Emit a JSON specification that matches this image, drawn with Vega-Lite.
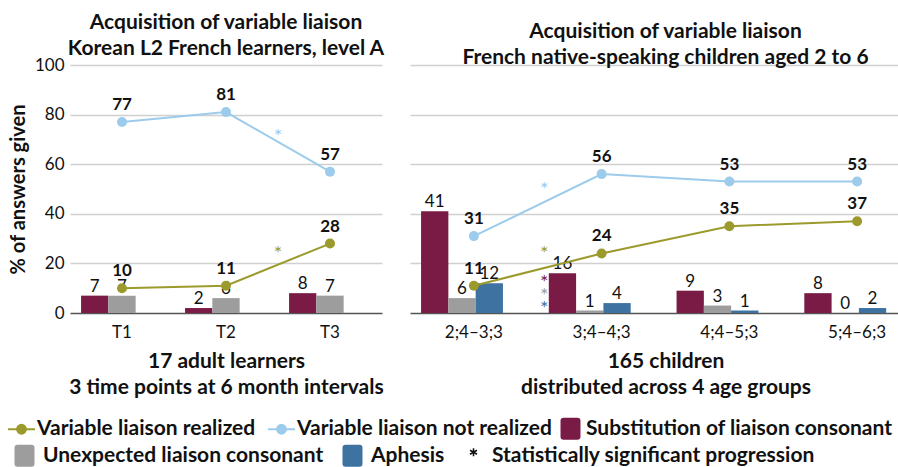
{
  "$schema": "https://vega.github.io/schema/vega-lite/v6.json",
  "padding": {"left": 8, "top": 12, "right": 0, "bottom": 0},
  "background": "white",
  "config": {
    "font": "Lato",
    "view": {"stroke": null},
    "concat": {"spacing": 25},
    "axis": {"labelFont": "Lato", "titleFont": "Lato", "labelColor": "#111", "titleColor": "#111"},
    "legend": {
      "orient": "none",
      "direction": "horizontal",
      "labelFont": "Lato",
      "labelFontSize": 21,
      "labelFontWeight": "bold",
      "labelColor": "#111",
      "labelLimit": 400
    }
  },
  "datasets": {
    "lines": [
      {"panel": "A", "cat": "T1", "series": "Variable liaison realized", "value": 10},
      {"panel": "A", "cat": "T2", "series": "Variable liaison realized", "value": 11},
      {"panel": "A", "cat": "T3", "series": "Variable liaison realized", "value": 28},
      {"panel": "A", "cat": "T1", "series": "Variable liaison not realized", "value": 77},
      {"panel": "A", "cat": "T2", "series": "Variable liaison not realized", "value": 81},
      {"panel": "A", "cat": "T3", "series": "Variable liaison not realized", "value": 57},
      {"panel": "B", "cat": "2;4–3;3", "series": "Variable liaison realized", "value": 11},
      {"panel": "B", "cat": "3;4–4;3", "series": "Variable liaison realized", "value": 24},
      {"panel": "B", "cat": "4;4–5;3", "series": "Variable liaison realized", "value": 35},
      {"panel": "B", "cat": "5;4–6;3", "series": "Variable liaison realized", "value": 37},
      {"panel": "B", "cat": "2;4–3;3", "series": "Variable liaison not realized", "value": 31},
      {"panel": "B", "cat": "3;4–4;3", "series": "Variable liaison not realized", "value": 56},
      {"panel": "B", "cat": "4;4–5;3", "series": "Variable liaison not realized", "value": 53},
      {"panel": "B", "cat": "5;4–6;3", "series": "Variable liaison not realized", "value": 53}
    ],
    "bars": [
      {"panel": "A", "cat": "T1", "series": "Substitution of liaison consonant", "value": 7},
      {"panel": "A", "cat": "T1", "series": "Unexpected liaison consonant", "value": 7},
      {"panel": "A", "cat": "T2", "series": "Substitution of liaison consonant", "value": 2},
      {"panel": "A", "cat": "T2", "series": "Unexpected liaison consonant", "value": 6},
      {"panel": "A", "cat": "T3", "series": "Substitution of liaison consonant", "value": 8},
      {"panel": "A", "cat": "T3", "series": "Unexpected liaison consonant", "value": 7},
      {"panel": "B", "cat": "2;4–3;3", "series": "Substitution of liaison consonant", "value": 41},
      {"panel": "B", "cat": "2;4–3;3", "series": "Unexpected liaison consonant", "value": 6},
      {"panel": "B", "cat": "2;4–3;3", "series": "Aphesis", "value": 12},
      {"panel": "B", "cat": "3;4–4;3", "series": "Substitution of liaison consonant", "value": 16},
      {"panel": "B", "cat": "3;4–4;3", "series": "Unexpected liaison consonant", "value": 1},
      {"panel": "B", "cat": "3;4–4;3", "series": "Aphesis", "value": 4},
      {"panel": "B", "cat": "4;4–5;3", "series": "Substitution of liaison consonant", "value": 9},
      {"panel": "B", "cat": "4;4–5;3", "series": "Unexpected liaison consonant", "value": 3},
      {"panel": "B", "cat": "4;4–5;3", "series": "Aphesis", "value": 1},
      {"panel": "B", "cat": "5;4–6;3", "series": "Substitution of liaison consonant", "value": 8},
      {"panel": "B", "cat": "5;4–6;3", "series": "Unexpected liaison consonant", "value": 0},
      {"panel": "B", "cat": "5;4–6;3", "series": "Aphesis", "value": 2}
    ],
    "stars": [
      {"panel": "A", "cat": "T2", "series": "Variable liaison not realized", "value": 73},
      {"panel": "A", "cat": "T2", "series": "Variable liaison realized", "value": 26},
      {"panel": "B", "cat": "2;4–3;3", "series": "Variable liaison not realized", "value": 51.6},
      {"panel": "B", "cat": "2;4–3;3", "series": "Variable liaison realized", "value": 25.8},
      {"panel": "B", "cat": "2;4–3;3", "series": "Substitution of liaison consonant", "value": 14},
      {"panel": "B", "cat": "2;4–3;3", "series": "Unexpected liaison consonant", "value": 9},
      {"panel": "B", "cat": "2;4–3;3", "series": "Aphesis", "value": 3.6}
    ]
  },
  "hconcat": [
    {
      "width": 312,
      "height": 248,
      "title": {"text": ["Acquisition of variable liaison", "Korean L2 French learners, level A"], "fontSize": 21, "fontWeight": "bold", "lineHeight": 26, "anchor": "middle", "offset": -3, "color": "#111", "font": "Lato"},
      "encoding": {
        "x": {
          "field": "cat", "type": "nominal",
          "scale": {"domain": ["T1", "T2", "T3"], "paddingInner": 0, "paddingOuter": 0},
          "axis": {"domain": false, "ticks": false, "labelAngle": 0, "labelFontSize": 17, "labelPadding": 11,
                   "title": ["17 adult learners", "3 time points at 6 month intervals"], "titleFontSize": 21, "titleFontWeight": "bold", "titleLineHeight": 26, "titlePadding": 10}
        },
        "y": {
          "field": "value", "type": "quantitative", "scale": {"domain": [0, 100], "nice": false},
          "axis": {"values": [0, 20, 40, 60, 80, 100], "domain": false, "ticks": false, "labelFontSize": 17, "labelPadding": 6,
                   "title": "% of answers given", "titleFontSize": 20, "titleFontWeight": "bold", "titlePadding": 6,
                   "gridColor": {"condition": {"test": "datum.value === 0", "value": "#555555"}, "value": "#d0d0d0"},
                   "gridWidth": {"condition": {"test": "datum.value === 0", "value": 1.6}, "value": 1.4}}
        }
      },
      "layer": [
        {
          "data": {"name": "bars"},
          "transform": [{"filter": "datum.panel === 'A' && datum.series === 'Substitution of liaison consonant'"}],
          "mark": {"type": "bar"},
          "encoding": {
            "xOffset": {"field": "series", "type": "nominal", "scale": {"domain": ["Substitution of liaison consonant", "Unexpected liaison consonant"], "paddingOuter": 0.405, "paddingInner": 0}},
            "color": {
              "field": "series", "type": "nominal",
              "scale": {
                "domain": ["Variable liaison realized", "Variable liaison not realized", "Substitution of liaison consonant"],
                "range": ["#9c9a2c", "#9ccbec", "#7a1b45"]
              },
              "legend": {
                "title": null,
                "orient": "none",
                "legendX": -59,
                "legendY": 353,
                "direction": "horizontal",
                "symbolSize": 729,
                "labelOffset": 5,
                "columnPadding": 8,
                "encode": {
                  "symbols": {
                    "update": {
                      "shape": {"signal": "datum.value === 'Substitution of liaison consonant' ? 'M-0.5,-0.81H0.5Q0.74,-0.81 0.74,-0.57V0.57Q0.74,0.81 0.5,0.81H-0.5Q-0.74,0.81 -0.74,0.57V-0.57Q-0.74,-0.81 -0.5,-0.81Z' : 'M-1,0H1M0.33,0A0.33,0.33 0 1 1 -0.33,0A0.33,0.33 0 1 1 0.33,0Z'"},
                      "stroke": {"scale": "color", "field": "value"},
                      "fill": {"scale": "color", "field": "value"},
                      "strokeWidth": {"signal": "datum.value === 'Substitution of liaison consonant' ? 0 : 2"},
                      "opacity": {"value": 1}
                    }
                  }
                }
              }
            }
          }
        },
        {
          "data": {"name": "bars"},
          "transform": [{"filter": "datum.panel === 'A' && datum.series !== 'Substitution of liaison consonant'"}],
          "mark": {"type": "bar"},
          "encoding": {
            "xOffset": {"field": "series", "type": "nominal"},
            "fill": {
              "field": "series", "type": "nominal",
              "scale": {
                "domain": ["Unexpected liaison consonant", "Aphesis", "Statistically significant progression"],
                "range": ["#9d9d9d", "#3e72a1", "#111111"]
              },
              "legend": {
                "title": null,
                "orient": "none",
                "legendX": -56,
                "legendY": 380,
                "direction": "horizontal",
                "symbolSize": 400,
                "labelOffset": 8,
                "columnPadding": 18,
                "encode": {
                  "symbols": {
                    "update": {
                      "shape": {"signal": "datum.value === 'Statistically significant progression' ? 'M0,-0.8V0M-0.35,-0.6L0.35,-0.2M-0.35,-0.2L0.35,-0.6' : 'M-0.7,-1.1H0.7Q1,-1.1 1,-0.8V0.8Q1,1.1 0.7,1.1H-0.7Q-1,1.1 -1,0.8V-0.8Q-1,-1.1 -0.7,-1.1Z'"},
                      "stroke": {"scale": "fill", "field": "value"},
                      "fill": {"scale": "fill", "field": "value"},
                      "strokeWidth": {"signal": "datum.value === 'Statistically significant progression' ? 1.5 : 0"},
                      "opacity": {"value": 1}
                    }
                  }
                }
              }
            }
          }
        },
        {
          "data": {"name": "bars"},
          "transform": [{"filter": "datum.panel === 'A'"}],
          "mark": {"type": "text", "fontSize": 17, "dy": -9, "color": "#111"},
          "encoding": {
            "xOffset": {"field": "series", "type": "nominal"},
            "text": {"field": "value", "type": "quantitative"}
          }
        },
        {
          "data": {"name": "lines"},
          "transform": [{"filter": "datum.panel === 'A'"}],
          "mark": {"type": "line", "strokeWidth": 2},
          "encoding": {"color": {"field": "series", "type": "nominal"}}
        },
        {
          "data": {"name": "lines"},
          "transform": [{"filter": "datum.panel === 'A'"}],
          "mark": {"type": "point", "filled": true, "size": 100, "opacity": 1},
          "encoding": {"color": {"field": "series", "type": "nominal"}}
        },
        {
          "data": {"name": "lines"},
          "transform": [{"filter": "datum.panel === 'A'"}],
          "mark": {"type": "text", "fontSize": 17, "fontWeight": "bold", "dy": -17, "color": "#111"},
          "encoding": {"text": {"field": "value", "type": "quantitative"}}
        },
        {
          "data": {"name": "stars"},
          "transform": [{"filter": "datum.panel === 'A'"}],
          "mark": {"type": "text", "text": "*", "fontSize": 20, "dy": 5},
          "encoding": {
            "x": {"field": "cat", "type": "nominal", "bandPosition": 1},
            "color": {"field": "series", "type": "nominal"}
          }
        }
      ]
    },
    {
      "width": 511,
      "height": 248,
      "title": {"text": ["Acquisition of variable liaison", "French native-speaking children aged 2 to 6"], "fontSize": 21, "fontWeight": "bold", "lineHeight": 26, "anchor": "middle", "offset": -3, "color": "#111", "font": "Lato"},
      "encoding": {
        "x": {
          "field": "cat", "type": "nominal",
          "scale": {"domain": ["2;4–3;3", "3;4–4;3", "4;4–5;3", "5;4–6;3"], "paddingInner": 0, "paddingOuter": 0},
          "axis": {"domain": false, "ticks": false, "labelAngle": 0, "labelFontSize": 17, "labelPadding": 11,
                   "title": ["165 children", "distributed across 4 age groups"], "titleFontSize": 21, "titleFontWeight": "bold", "titleLineHeight": 26, "titlePadding": 10}
        },
        "y": {
          "field": "value", "type": "quantitative", "scale": {"domain": [0, 100], "nice": false},
          "axis": {"values": [0, 20, 40, 60, 80, 100], "domain": false, "ticks": false, "labels": false, "title": null,
                   "gridColor": {"condition": {"test": "datum.value === 0", "value": "#555555"}, "value": "#d0d0d0"},
                   "gridWidth": {"condition": {"test": "datum.value === 0", "value": 1.6}, "value": 1.4}}
        }
      },
      "layer": [
        {
          "data": {"name": "bars"},
          "transform": [{"filter": "datum.panel === 'B' && datum.series === 'Substitution of liaison consonant'"}],
          "mark": {"type": "bar"},
          "encoding": {
            "xOffset": {"field": "series", "type": "nominal", "scale": {"domain": ["Substitution of liaison consonant", "Unexpected liaison consonant", "Aphesis"], "paddingOuter": 0.86, "paddingInner": 0}},
            "color": {"field": "series", "type": "nominal"}
          }
        },
        {
          "data": {"name": "bars"},
          "transform": [{"filter": "datum.panel === 'B' && datum.series !== 'Substitution of liaison consonant'"}],
          "mark": {"type": "bar"},
          "encoding": {
            "xOffset": {"field": "series", "type": "nominal"},
            "fill": {"field": "series", "type": "nominal"}
          }
        },
        {
          "data": {"name": "bars"},
          "transform": [{"filter": "datum.panel === 'B'"}],
          "mark": {"type": "text", "fontSize": 17, "dy": -9, "color": "#111"},
          "encoding": {
            "xOffset": {"field": "series", "type": "nominal"},
            "text": {"field": "value", "type": "quantitative"}
          }
        },
        {
          "data": {"name": "lines"},
          "transform": [{"filter": "datum.panel === 'B'"}],
          "mark": {"type": "line", "strokeWidth": 2},
          "encoding": {"color": {"field": "series", "type": "nominal"}}
        },
        {
          "data": {"name": "lines"},
          "transform": [{"filter": "datum.panel === 'B'"}],
          "mark": {"type": "point", "filled": true, "size": 100, "opacity": 1},
          "encoding": {"color": {"field": "series", "type": "nominal"}}
        },
        {
          "data": {"name": "lines"},
          "transform": [{"filter": "datum.panel === 'B'"}],
          "mark": {"type": "text", "fontSize": 17, "fontWeight": "bold", "dy": -17, "color": "#111"},
          "encoding": {"text": {"field": "value", "type": "quantitative"}}
        },
        {
          "data": {"name": "stars"},
          "transform": [{"filter": "datum.panel === 'B' && (datum.series === 'Variable liaison realized' || datum.series === 'Variable liaison not realized' || datum.series === 'Substitution of liaison consonant')"}],
          "mark": {"type": "text", "text": "*", "fontSize": 20, "dy": 5},
          "encoding": {
            "x": {"field": "cat", "type": "nominal", "bandPosition": 1.05},
            "color": {"field": "series", "type": "nominal"}
          }
        },
        {
          "data": {"name": "stars"},
          "transform": [{"filter": "datum.panel === 'B' && (datum.series === 'Unexpected liaison consonant' || datum.series === 'Aphesis')"}],
          "mark": {"type": "text", "text": "*", "fontSize": 20, "dy": 5},
          "encoding": {
            "x": {"field": "cat", "type": "nominal", "bandPosition": 1.05},
            "fill": {"field": "series", "type": "nominal"}
          }
        }
      ]
    }
  ]
}
